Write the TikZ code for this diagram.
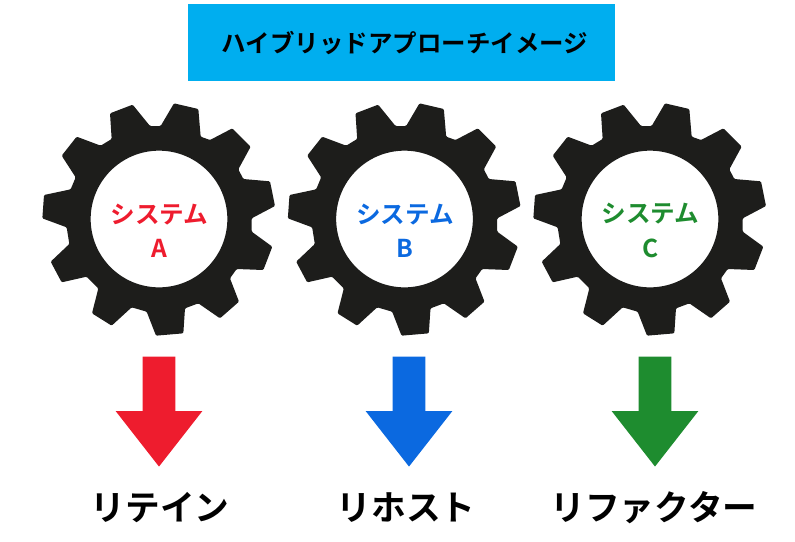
\documentclass[tikz,border=0pt]{standalone}
\usepackage{fontspec}
\setmainfont{Noto Sans CJK JP}[BoldFont={Noto Sans CJK JP Bold}]
\usepackage{tikz}
\usetikzlibrary{positioning,shapes.arrows}
\definecolor{gearblack}{HTML}{1D1D1B}
\definecolor{titleblue}{HTML}{00AEEF}
\definecolor{sysred}{HTML}{EE1C2E}
\definecolor{sysblue}{HTML}{0B69E0}
\definecolor{sysgreen}{HTML}{1E8C2F}
\tikzset{title node/.style={rectangle,fill=titleblue,minimum width=10.67cm,minimum height=1.92cm,inner sep=0pt,font=\fontsize{17.4}{20}\selectfont\bfseries},
  system node/.style={align=center,inner sep=0pt,font=\fontsize{17.5}{24.5}\selectfont\bfseries},
  result node/.style={inner sep=0pt,font=\fontsize{24.7}{28}\selectfont\bfseries},
  down arrow/.style={single arrow,shape border rotate=270,draw=none,fill=#1,inner sep=0.4cm,minimum width=2.15cm,minimum height=2.75cm,single arrow head extend=0.675cm,single arrow tip angle=76,single arrow head indent=0pt,anchor=tip},
  gear/.pic={
    \fill[gearblack,even odd rule,rounded corners=0.8pt,x=0.00833cm,y=-0.00833cm]
      (240-387,70-387)--(308-387,44-387)--(360-387,108-387)--(392-387,108-387)--(432-387,40-387)
      --(505-387,57-387)--(512-387,140-387)--(540-387,150-387)--(607-387,115-387)--(662-387,170-387)
      --(625-387,238-387)--(640-387,267-387)--(720-387,274-387)--(735-387,348-387)--(665-387,385-387)
      --(665-387,425-387)--(727-387,470-387)--(700-387,540-387)--(620-387,537-387)--(600-387,565-387)
      --(627-387,635-387)--(570-387,685-387)--(505-387,640-387)--(465-387,655-387)--(460-387,730-387)
      --(378-387,737-387)--(350-387,665-387)--(305-387,652-387)--(245-387,707-387)--(186-387,670-387)
      --(205-387,595-387)--(170-387,560-387)--(95-387,577-387)--(62-387,515-387)--(118-387,462-387)
      --(110-387,412-387)--(37-387,385-387)--(42-387,315-387)--(122-387,298-387)--(137-387,262-387)
      --(95-387,197-387)--(140-387,140-387)--(212-387,167-387)--(245-387,147-387)--cycle
      (0,0) circle[radius=205];
  },}
\begin{document}
\begin{tikzpicture}[x=0.025cm,y=-0.025cm]
  \useasboundingbox (0,0) rectangle (795,541);

  \node[title node] (title) at (401.5,42.8) {\hspace{0.175cm}\raisebox{-0.025cm}{ハイブリッドアプローチイメージ}};

  \pic at (159,219) {gear};
  \pic at (404.5,219) {gear};
  \pic at (650,219) {gear};

  \node[system node,text=sysred] (sysa) at (159.5,230.5) {システム\\A};
  \node[system node,text=sysblue] (sysb) at (405,230.5) {システム\\B};
  \node[system node,text=sysgreen] (sysc) at (650.5,230.5) {システム\\C};

  \node[down arrow=sysred] (arrowa) at (159,467) {};
  \node[down arrow=sysblue] (arrowb) at (409,467) {};
  \node[down arrow=sysgreen] (arrowc) at (655,467) {};

  \node[result node] (reta) at (160,508) {リテイン};
  \node[result node] (retb) at (406,508) {リホスト};
  \node[result node] (retc) at (654,508) {リファクター};
\end{tikzpicture}
\end{document}
